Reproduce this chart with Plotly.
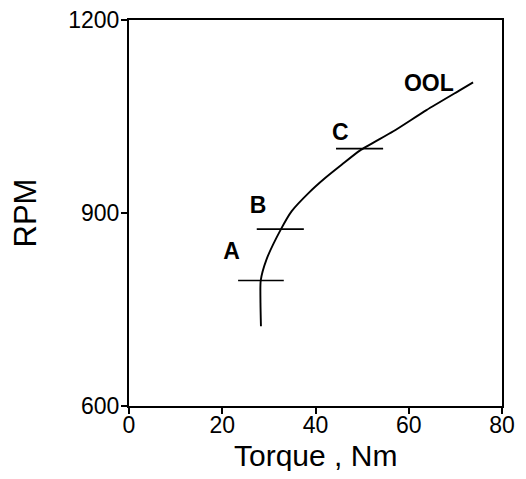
import plotly.graph_objects as go

# OOL curve (torque Nm, rpm)
curve_torque = [28.3, 28.2, 28.25, 29.5, 32.6, 34.9, 38.5, 42.0, 45.6, 49.5, 56.7, 63.8, 71.0, 73.8]
curve_rpm = [724, 760, 795, 828, 875, 903, 931, 954, 975, 997, 1027, 1060, 1091, 1103]

# Operating point markers (horizontal bars)
mark_labels = ["A", "B", "C"]
mark_rpm = [795, 875, 1000]
mark_left = [23.4, 27.4, 44.4]
mark_right = [33.2, 37.5, 54.5]

# Text labels
label_text = ["A", "B", "C", "OOL"]
label_torque = [22.0, 27.7, 45.3, 64.3]
label_rpm = [837, 909, 1023, 1098]

x_ticks = [0, 20, 40, 60, 80]
y_ticks = [600, 900, 1200]
x_title = "Torque , Nm"
y_title = "RPM"

fig = go.Figure()
fig.add_trace(go.Scatter(x=curve_torque, y=curve_rpm, mode="lines",
                         line=dict(color="black", width=1.9, shape="spline", smoothing=0.6),
                         showlegend=False, hoverinfo="skip"))
bx, by = [], []
for l, r, y in zip(mark_left, mark_right, mark_rpm):
    bx += [l, r, None]
    by += [y, y, None]
fig.add_trace(go.Scatter(x=bx, y=by, mode="lines",
                         line=dict(color="black", width=1.6),
                         showlegend=False, hoverinfo="skip"))
fig.add_trace(go.Scatter(x=label_torque, y=label_rpm, mode="text", text=label_text,
                         textfont=dict(family="Liberation Sans", size=23, color="black",
                                       weight="bold"),
                         showlegend=False, hoverinfo="skip"))

fig.update_layout(
    width=510, height=463,
    margin=dict(l=121, r=16, t=12, b=65, autoexpand=False),
    paper_bgcolor="white", plot_bgcolor="white",
    font=dict(family="Liberation Sans", color="black"),
    annotations=[dict(text=x_title, x=0.5, xref="paper", y=0, yref="paper",
                      xanchor="center", yanchor="top", yshift=-31, showarrow=False,
                      font=dict(size=30, color="black"))],
)
fig.update_xaxes(range=[0, 80], tickvals=x_ticks, showgrid=False, zeroline=False,
                 showline=True, linecolor="black", linewidth=2, mirror=True,
                 ticks="outside", ticklen=6, tickwidth=1.5, tickcolor="black",
                 tickfont=dict(size=23), automargin=False, ticklabeloverflow="allow",
                 ticklabelstandoff=-9)
fig.update_yaxes(range=[600, 1200], tickvals=y_ticks, showgrid=False, zeroline=False,
                 showline=True, linecolor="black", linewidth=2, mirror=True,
                 ticks="outside", ticklen=6, tickwidth=1.5, tickcolor="black",
                 tickfont=dict(size=23), automargin=False, ticklabeloverflow="allow",
                 ticklabelstandoff=-3,
                 title=dict(text=y_title, font=dict(size=31), standoff=38))

fig.write_html("out.html")
